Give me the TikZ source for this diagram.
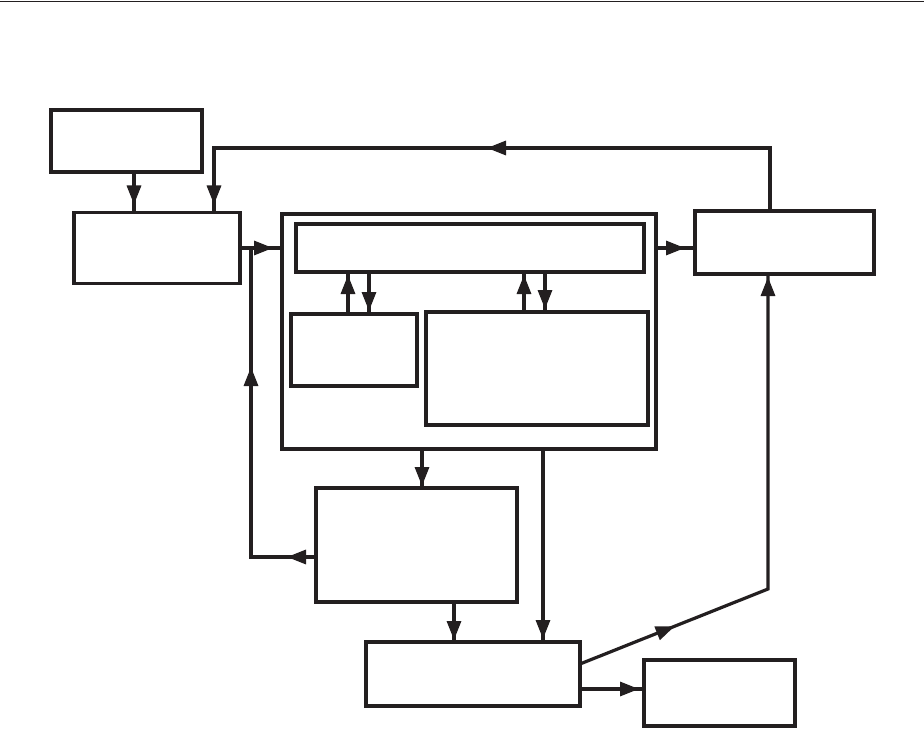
\documentclass[tikz,border=0pt]{standalone}
\usetikzlibrary{arrows.meta,decorations.markings}
\definecolor{ink}{RGB}{35,31,32}
\begin{document}
\begin{tikzpicture}[x=1pt,y=-1pt,
  box/.style={draw=ink,line width=3.2pt,rectangle,inner sep=0pt,outer sep=0pt},
  conn/.style={draw=ink,line width=3.2pt},
  >={Triangle[length=19pt,width=14pt]},
  mk/.style={postaction={decorate,decoration={markings,mark=at position #1 with {\arrow[ink]{>}}}}}]
\useasboundingbox (0,0) rectangle (924,730);
\draw[ink,line width=1pt] (0,1.5) -- (924,1.5);
% boxes
\node[box,minimum width=151pt,minimum height=62pt] (A) at (126.5,141) {};
\node[box,minimum width=166pt,minimum height=71pt] (B) at (157,248) {};
\node[box,minimum width=374pt,minimum height=235pt] (C) at (469,331.5) {};
\node[box,minimum width=348pt,minimum height=48pt] (C1) at (470,248) {};
\node[box,minimum width=126pt,minimum height=72pt] (C2) at (354,350) {};
\node[box,minimum width=222pt,minimum height=113pt] (C3) at (537,368.5) {};
\node[box,minimum width=179pt,minimum height=63pt] (D) at (784.5,242.5) {};
\node[box,minimum width=201pt,minimum height=114pt] (G) at (416.5,545) {};
\node[box,minimum width=214pt,minimum height=64pt] (E) at (473,674) {};
\node[box,minimum width=151pt,minimum height=66pt] (F) at (719.5,693) {};
% named bends
\coordinate (fbR) at (770,148);
\coordinate (fbL) at (214,148);
\coordinate (lfB) at (251,557);
\coordinate (lfT) at (251,248);
\coordinate (drT) at (768,589);
% connectors
\draw[conn,mk=-8pt] (134,0 |- A.south) -- (134,0 |- B.north);
\draw[conn,mk=346pt,mk=-8pt] (770,0 |- D.north) -- (fbR) -- (fbL) -- (214,0 |- B.north);
\draw[conn,mk=-9pt] (B.east |- C1.west) -- (C.west |- C1.west);
\draw[conn,mk=-10pt] (C.east |- C1.east) -- (D.west |- C1.east);
\draw[conn,mk=29pt,mk=255pt] (G.west |- lfB) -- (lfB) -- (lfT);
\draw[conn,mk=-3pt] (348,0 |- C2.north) -- (348,0 |- C1.south);
\draw[conn,mk=-3pt] (369,0 |- C1.south) -- (369,0 |- C2.north);
\draw[conn,mk=-3pt] (524,0 |- C3.north) -- (524,0 |- C1.south);
\draw[conn,mk=-3pt] (545,0 |- C1.south) -- (545,0 |- C3.north);
\draw[conn,mk=-2pt] (422,0 |- C.south) -- (422,0 |- G.north);
\draw[conn,mk=-2pt] (454,0 |- G.south) -- (454,0 |- E.north);
\draw[conn,mk=-3pt] (543,0 |- C.south) -- (543,0 |- E.north);
\draw[conn,mk=102pt,mk=-3pt] (E.east |- 0,664) -- (drT) -- (768,0 |- D.south);
\draw[conn,mk=-5pt] (E.east |- 0,689) -- (F.west |- 0,689);
\end{tikzpicture}
\end{document}
